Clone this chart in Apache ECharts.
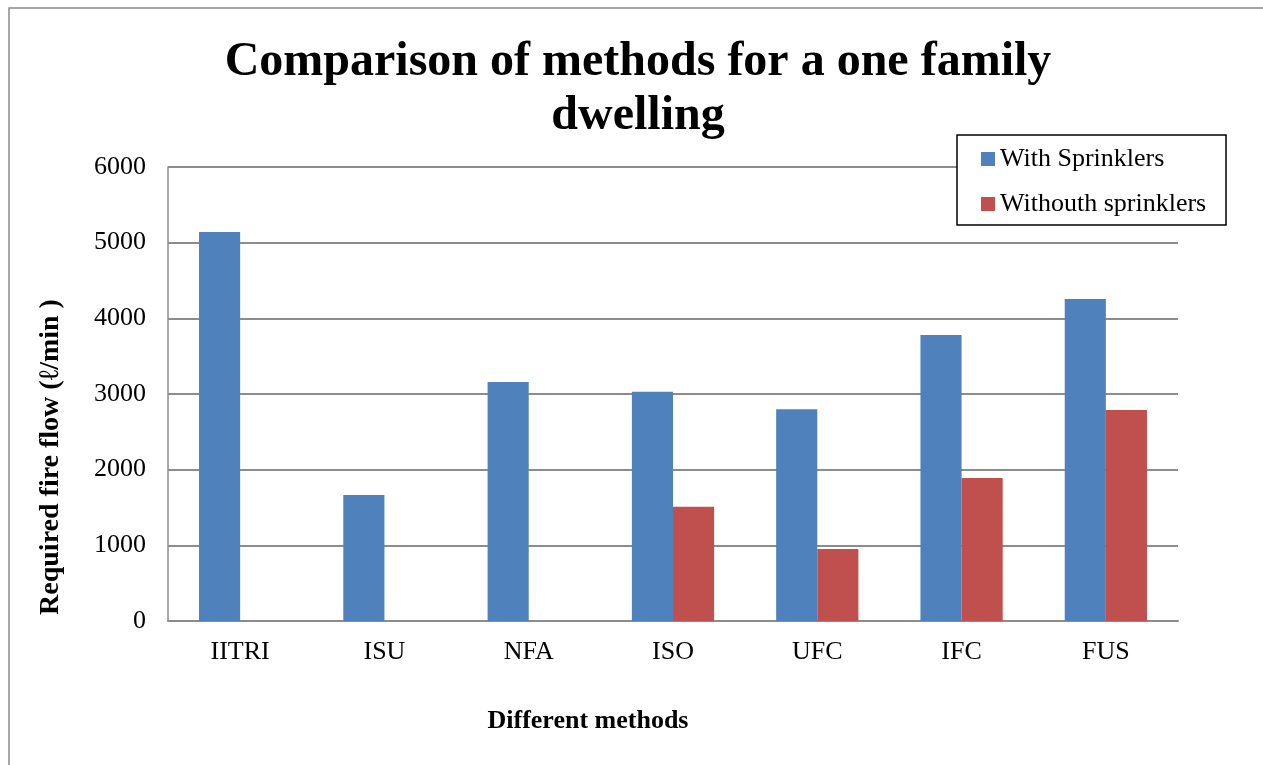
<!DOCTYPE html>
<html>
<head>
<meta charset="utf-8">
<script src="https://cdn.jsdelivr.net/npm/echarts@6/dist/echarts.min.js"></script>
<style>
  html, body { margin: 0; padding: 0; background: #fff; }
  #chart { width: 1263px; height: 765px; }
</style>
</head>
<body>
<div id="chart"></div>
<script>
// Fire flow required by each method (l/min)
const categories = ['IITRI', 'ISU', 'NFA', 'ISO', 'UFC', 'IFC', 'FUS'];
const withSprinklers = [5140, 1665, 3160, 3030, 2800, 3780, 4255];
const withoutSprinklers = [null, null, null, 1510, 950, 1890, 2790];
const seriesNames = ['With Sprinklers', 'Withouth sprinklers'];
const yTicks = { min: 0, max: 6000, interval: 1000 };

const serif = '"Liberation Serif", "Times New Roman", serif';
const gridColor = '#8c8c8c';

const chart = echarts.init(document.getElementById('chart'), null, { renderer: 'canvas' });

chart.setOption({
  animation: false,
  backgroundColor: '#ffffff',
  title: {
    text: 'Comparison of methods for a one family\ndwelling',
    left: 633,
    top: 31,
    textAlign: 'center',
    textStyle: {
      fontFamily: serif,
      fontWeight: 'bold',
      fontSize: 48,
      lineHeight: 54,
      color: '#000'
    }
  },
  graphic: [
    {
      type: 'rect',
      shape: { x: 9, y: 8, width: 1300, height: 800 },
      style: { fill: 'none', stroke: '#8a8a8a', lineWidth: 1.5 },
      z: 0
    },
    {
      type: 'rect',
      shape: { x: 957, y: 135, width: 269, height: 90 },
      style: { fill: '#ffffff', stroke: '#000', lineWidth: 1.5 },
      z: 50
    }
  ],
  legend: {
    orient: 'vertical',
    left: 976,
    top: 141,
    itemWidth: 14,
    itemHeight: 14,
    itemGap: 19,
    icon: 'rect',
    z: 60,
    textStyle: { fontFamily: serif, fontSize: 26, color: '#000' },
    data: seriesNames
  },
  grid: {
    left: 168,
    top: 167,
    right: 85,
    bottom: 144,
    containLabel: false
  },
  xAxis: {
    type: 'category',
    data: categories,
    name: 'Different methods',
    nameLocation: 'middle',
    nameGap: 87,
    nameTextStyle: {
      fontFamily: serif, fontWeight: 'bold', fontSize: 26, color: '#000',
      padding: [0, 170, 0, 0]
    },
    axisLine: { lineStyle: { color: gridColor, width: 2 } },
    axisTick: { show: false },
    axisLabel: { fontFamily: serif, fontSize: 26, color: '#000', margin: 18 }
  },
  yAxis: {
    type: 'value',
    min: yTicks.min,
    max: yTicks.max,
    interval: yTicks.interval,
    name: 'Required fire flow (ℓ/min )',
    nameLocation: 'middle',
    nameGap: 103,
    nameRotate: 90,
    nameTextStyle: {
      fontFamily: serif, fontWeight: 'bold', fontSize: 28, color: '#000',
      padding: [0, 126, 0, 0]
    },
    axisLine: { show: true, lineStyle: { color: gridColor, width: 1.5 } },
    axisTick: { show: false },
    splitLine: { lineStyle: { color: gridColor, width: 2 } },
    axisLabel: {
      fontFamily: serif, fontSize: 26, color: '#000', margin: 22,
      formatter: (v) => String(v)
    }
  },
  series: [
    {
      name: seriesNames[0],
      type: 'bar',
      data: withSprinklers,
      barGap: '0%',
      barCategoryGap: '43%',
      itemStyle: { color: '#4F81BD' }
    },
    {
      name: seriesNames[1],
      type: 'bar',
      data: withoutSprinklers,
      itemStyle: { color: '#C0504D' }
    }
  ]
});
</script>
</body>
</html>
